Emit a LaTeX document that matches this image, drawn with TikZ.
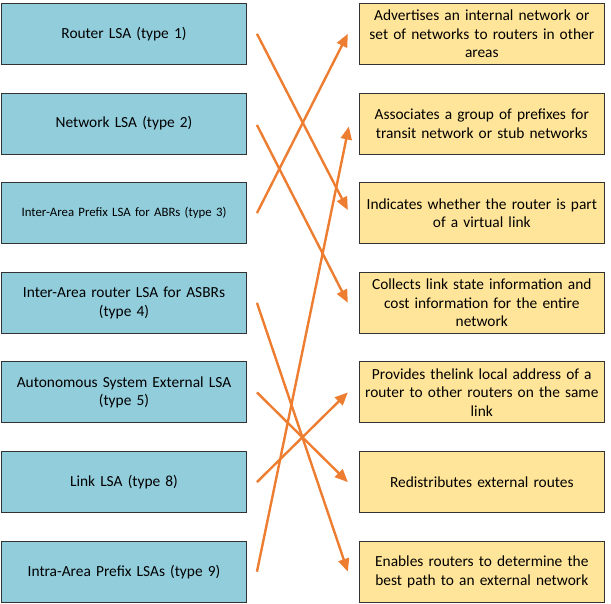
\documentclass[tikz,border=0pt]{standalone}
\usepackage{fontspec}
\setmainfont{Carlito}
\usetikzlibrary{arrows.meta}
\definecolor{lbox}{RGB}{146,205,220}
\definecolor{rbox}{RGB}{255,229,153}
\definecolor{arrc}{RGB}{237,125,49}
\begin{document}
\begin{tikzpicture}[x=1pt,y=-1pt,
  lsa/.style={draw=black!80, line width=0.9pt, fill=lbox, minimum width=245pt, minimum height=61pt, inner sep=2pt, align=center, font=\fontsize{15.4}{18.7}\selectfont, text width=240pt},
  desc/.style={draw=black!80, line width=0.9pt, fill=rbox, minimum width=245pt, minimum height=61pt, inner sep=2pt, align=center, font=\fontsize{15.4}{18.7}\selectfont, text width=240pt},
  arr/.style={draw=arrc, line width=2.4pt, -{Triangle[length=13pt,width=11pt]}}]
\useasboundingbox (0,0) rectangle (611,603);
\node[lsa] (L1) at (124,33.8) {Router LSA (type 1)};
\node[lsa] (L2) at (124,123.5) {Network LSA (type 2)};
\node[lsa,font=\fontsize{12.8}{15}\selectfont] (L3) at (124,213.1) {Inter-Area Prefix LSA for ABRs (type 3)};
\node[lsa] (L4) at (124,302.8) {Inter-Area router LSA for ASBRs\\(type 4)};
\node[lsa] (L5) at (124,392.4) {Autonomous System External LSA\\(type 5)};
\node[lsa] (L6) at (124,482.1) {Link LSA (type 8)};
\node[lsa] (L7) at (124,571.7) {Intra-Area Prefix LSAs (type 9)};
\node[desc] (R1) at (481.8,33.8) {Advertises an internal network or\\set of networks to routers in other\\areas};
\node[desc] (R2) at (481.8,123.5) {Associates a group of prefixes for\\transit network or stub networks};
\node[desc] (R3) at (481.8,213.1) {Indicates whether the router is part\\of a virtual link};
\node[desc] (R4) at (481.8,302.8) {Collects link state information and\\cost information for the entire\\network};
\node[desc] (R5) at (481.8,392.4) {Provides thelink local address of a\\router to other routers on the same\\link};
\node[desc] (R6) at (481.8,482.1) {Redistributes external routes};
\node[desc] (R7) at (481.8,571.7) {Enables routers to determine the\\best path to an external network};
\draw[arr] ([xshift=10pt]L1.east) -- ([xshift=-11pt,yshift=3pt]R3.west);
\draw[arr] ([xshift=10pt,yshift=-1.5pt]L2.east) -- ([xshift=-11pt]R4.west);
\draw[arr] ([xshift=10pt]L3.east) -- ([xshift=-11pt]R1.west);
\draw[arr] ([xshift=10pt]L4.east) -- ([xshift=-11pt]R7.west);
\draw[arr] ([xshift=10pt]L5.east) -- ([xshift=-11pt]R6.west);
\draw[arr] ([xshift=10pt]L6.east) -- ([xshift=-11pt]R5.west);
\draw[arr] ([xshift=10pt]L7.east) -- ([xshift=-10pt,yshift=-3pt]R2.west);
\end{tikzpicture}
\end{document}
